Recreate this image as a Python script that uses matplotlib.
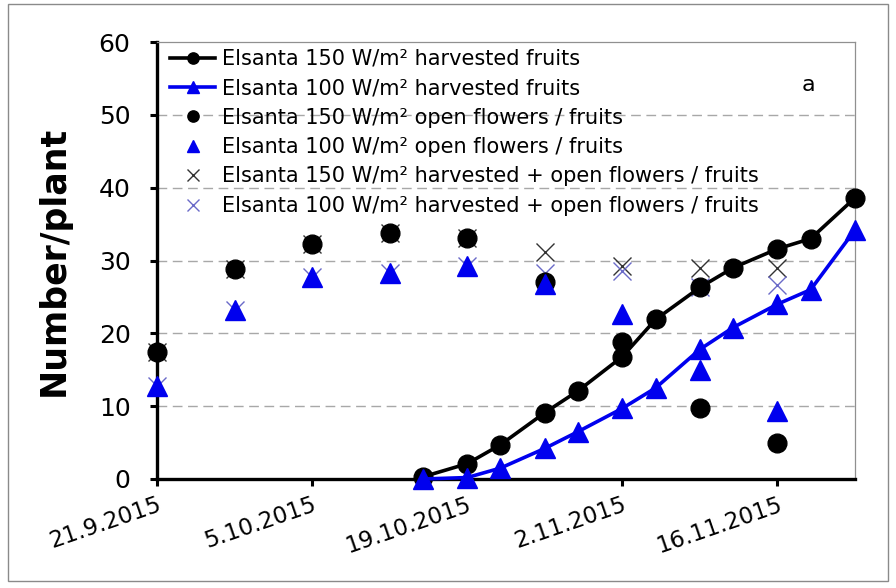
import matplotlib
matplotlib.use("Agg")
import matplotlib.pyplot as plt
import pandas as pd
from matplotlib.patches import Rectangle

# ---- data ----
harvest_dates = ["2015-10-15", "2015-10-19", "2015-10-22", "2015-10-26", "2015-10-29",
                 "2015-11-02", "2015-11-05", "2015-11-09", "2015-11-12", "2015-11-16",
                 "2015-11-19", "2015-11-23"]
harv150 = [0.3, 2.1, 4.7, 9.1, 12.1, 16.8, 21.9, 26.3, 29.0, 31.6, 33.0, 38.6]
harv100 = [0.0, 0.2, 1.5, 4.2, 6.5, 9.7, 12.5, 17.8, 20.8, 24.0, 26.0, 34.2]

count_dates = ["2015-09-21", "2015-09-28", "2015-10-05", "2015-10-12", "2015-10-19",
               "2015-10-26", "2015-11-02", "2015-11-09", "2015-11-16"]
open150 = [17.5, 28.9, 32.3, 33.8, 33.1, 27.0, 18.8, 9.7, 5.0]
open100 = [12.8, 23.2, 27.8, 28.3, 29.3, 26.8, 22.6, 15.0, 9.4]
total150 = [17.5, 28.9, 32.3, 33.8, 33.1, 31.2, 29.3, 29.0, 29.0]
total100 = [12.8, 23.2, 27.8, 28.3, 29.3, 28.3, 28.5, 26.3, 26.6]

tick_dates = ["2015-09-21", "2015-10-05", "2015-10-19", "2015-11-02", "2015-11-16"]
tick_labels = ["21.9.2015", "5.10.2015", "19.10.2015", "2.11.2015", "16.11.2015"]

labels = ["Elsanta 150 W/m² harvested fruits",
          "Elsanta 100 W/m² harvested fruits",
          "Elsanta 150 W/m² open flowers / fruits",
          "Elsanta 100 W/m² open flowers / fruits",
          "Elsanta 150 W/m² harvested + open flowers / fruits",
          "Elsanta 100 W/m² harvested + open flowers / fruits"]

hd = pd.to_datetime(harvest_dates)
cd = pd.to_datetime(count_dates)
td = pd.to_datetime(tick_dates)

plt.rcParams['font.family'] = ['DejaVu Sans']

W, H = 896, 588
fig = plt.figure(figsize=(W / 100, H / 100), dpi=100)
L, R, B, T = 157, 855, 479, 42
ax = fig.add_axes([L / W, 1 - B / H, (R - L) / W, (B - T) / H])

blue = "#0000ee"
hx150, = ax.plot(cd, total150, linestyle="none", marker="x", ms=13.5, mew=1.0,
                 color="#333333", zorder=2, clip_on=False)
hx100, = ax.plot(cd, total100, linestyle="none", marker="x", ms=13.5, mew=1.0,
                 color="#6a6ac8", zorder=2, clip_on=False)
ho150, = ax.plot(cd, open150, linestyle="none", marker="o", ms=13.5,
                 color="black", zorder=3, clip_on=False)
ho100, = ax.plot(cd, open100, linestyle="none", marker="^", ms=14,
                 color=blue, zorder=3, clip_on=False)
hh150, = ax.plot(hd, harv150, color="black", lw=2.6, marker="o", ms=13.5, zorder=5,
                 clip_on=False)
hh100, = ax.plot(hd, harv100, color=blue, lw=2.6, marker="^", ms=14, zorder=6,
                 clip_on=False)

ax.set_ylim(0, 60)
ax.set_yticks(range(0, 61, 10))
ax.set_xlim(pd.Timestamp("2015-09-21"), pd.Timestamp("2015-11-23"))
ax.set_xticks(td)
ax.set_xticklabels(tick_labels)

for y in range(10, 60, 10):
    ax.axhline(y, color="#a8a8a8", lw=1.0, ls=(0, (7, 4)), zorder=1)

for s in ["left", "bottom"]:
    ax.spines[s].set_linewidth(2.4)
    ax.spines[s].set_color("black")
for s in ["top", "right"]:
    ax.spines[s].set_linewidth(0.9)
    ax.spines[s].set_color("#909090")

ax.tick_params(axis="both", direction="out", length=5, width=2.2, labelsize=18,
               colors="black")
ax.tick_params(axis="y", pad=14)
ax.tick_params(axis="x", pad=5, labelsize=16.5)
for lab in ax.get_xticklabels():
    lab.set_rotation(19)
    lab.set_ha("right")
    lab.set_rotation_mode("anchor")

ax.set_ylabel("Number/plant", fontsize=25, fontweight="bold", labelpad=20)

ax.text((808 - L) / (R - L), (B - 85) / (B - T), "a", transform=ax.transAxes,
        fontsize=16, ha="center", va="center")

leg = ax.legend([hh150, hh100, ho150, ho100, hx150, hx100], labels,
                loc="upper left", bbox_to_anchor=((170 - L) / (R - L), (B - 49) / (B - T)),
                frameon=False, fontsize=15, borderpad=0, borderaxespad=0,
                labelspacing=0.45, handlelength=2.16, handletextpad=0.33,
                markerscale=0.6)
leg.set_zorder(10)

fig.patches.append(Rectangle((8 / W, 1 - 581 / H), 880 / W, 577 / H,
                             transform=fig.transFigure, fill=False,
                             edgecolor="#8a8a8a", lw=1.0))

fig.savefig("out.png", dpi=100)
